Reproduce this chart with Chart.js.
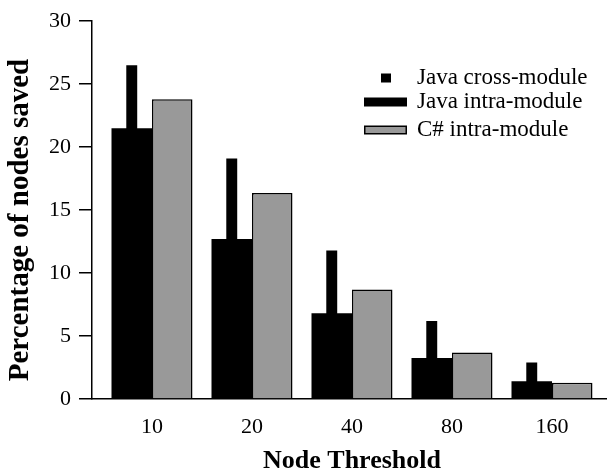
<!DOCTYPE html>
<html lang="en">
<head>
    <meta charset="UTF-8">
    <title>Node Threshold</title>
    <script src="https://cdn.jsdelivr.net/npm/chart.js"></script>
    <style>
        body { margin: 0; background: #fff; }
        #caixa { width: 610px; height: 473px; }
    </style>
</head>
<body>
    <div id="caixa">
        <canvas id="myChart"></canvas>
    </div>

<script>
// dados
const categorias = ['10', '20', '40', '80', '160'];
const javaCross = [26.5, 19.1, 11.8, 6.2, 2.9];
const javaIntra = [21.5, 12.7, 6.8, 3.25, 1.4];
const csharpIntra = [23.8, 16.35, 8.7, 3.7, 1.3];
const ticksY = [0, 5, 10, 15, 20, 25, 30];

const fonte = 'Liberation Serif, Times New Roman, serif';

// posicao de cada categoria no eixo x (1..n)
function pontos(valores) {
    return valores.map(function (v, i) { return { x: i + 1, y: v }; });
}

// desenha titulos dos eixos e a legenda
const extras = {
    id: 'extras',
    afterDraw(chart) {
        const ctx = chart.ctx;
        ctx.save();
        ctx.fillStyle = '#000';

        // titulo eixo x
        ctx.font = 'bold 26px ' + fonte;
        ctx.textAlign = 'center';
        ctx.textBaseline = 'middle';
        ctx.fillText('Node Threshold', 352, 461);

        // titulo eixo y
        ctx.save();
        ctx.translate(21, 220);
        ctx.rotate(-Math.PI / 2);
        ctx.font = 'bold 29px ' + fonte;
        ctx.fillText('Percentage of nodes saved', 0, 0);
        ctx.restore();

        // legenda
        const ds = chart.data.datasets;
        ctx.font = '23px ' + fonte;
        ctx.textAlign = 'left';
        const linhas = [78, 102, 130];
        ds.forEach(function (d, i) {
            const y = linhas[i];
            if (i === 0) {
                ctx.fillStyle = d.backgroundColor;
                ctx.fillRect(381, y - 4.5, 10, 9);
            } else {
                ctx.fillStyle = d.borderColor;
                ctx.fillRect(364, y - 4.5, 43, 9);
                ctx.fillStyle = d.backgroundColor;
                ctx.fillRect(365.5, y - 3, 40, 6);
            }
            ctx.fillStyle = '#000';
            ctx.fillText(d.label, 417, y);
        });
        ctx.restore();
    }
};

const dados = {
    datasets: [{
        label: 'Java cross-module',
        data: pontos(javaCross),
        backgroundColor: '#000',
        borderWidth: 0,
        stack: 'a',
        barPercentage: 0.27
    }, {
        label: 'Java intra-module',
        data: pontos(javaIntra),
        backgroundColor: '#000',
        borderColor: '#000',
        borderWidth: 0,
        stack: 'a',
        barPercentage: 1
    }, {
        label: 'C# intra-module',
        data: pontos(csharpIntra),
        backgroundColor: '#999999',
        borderColor: '#000',
        borderWidth: 1.5,
        stack: 'b',
        barPercentage: 1
    }]
};

const config = {
    type: 'bar',
    data: dados,
    options: {
        responsive: true,
        maintainAspectRatio: false,
        animation: false,
        categoryPercentage: 0.81,
        layout: { padding: { top: 13.5, right: 4, left: 0, bottom: 0 } },
        plugins: {
            legend: { display: false },
            tooltip: { enabled: false }
        },
        scales: {
            x: {
                type: 'linear',
                offset: false,
                min: 0.4,
                max: 5.54,
                afterFit: function (s) { s.height = 74; },
                afterBuildTicks: function (s) {
                    s.ticks = categorias.map(function (c, i) { return { value: i + 1 }; });
                },
                ticks: {
                    callback: function (v) { return categorias[v - 1]; },
                    font: { family: fonte, size: 22 },
                    color: '#000',
                    padding: 15,
                    maxRotation: 0
                },
                grid: { offset: false, drawOnChartArea: false, drawTicks: false },
                border: { color: '#000', width: 1.5 }
            },
            y: {
                stacked: false,
                min: 0,
                max: 30,
                afterFit: function (s) { s.width = 92; },
                afterBuildTicks: function (s) {
                    s.ticks = ticksY.map(function (t) { return { value: t }; });
                },
                ticks: {
                    font: { family: fonte, size: 22 },
                    color: '#000',
                    padding: 8
                },
                grid: { drawOnChartArea: false, drawTicks: true, tickLength: 13, color: '#000', lineWidth: 1.5 },
                border: { color: '#000', width: 1.5 }
            }
        }
    },
    plugins: [extras]
};

let myChart = new Chart(document.getElementById('myChart'), config);
</script>
</body>
</html>
